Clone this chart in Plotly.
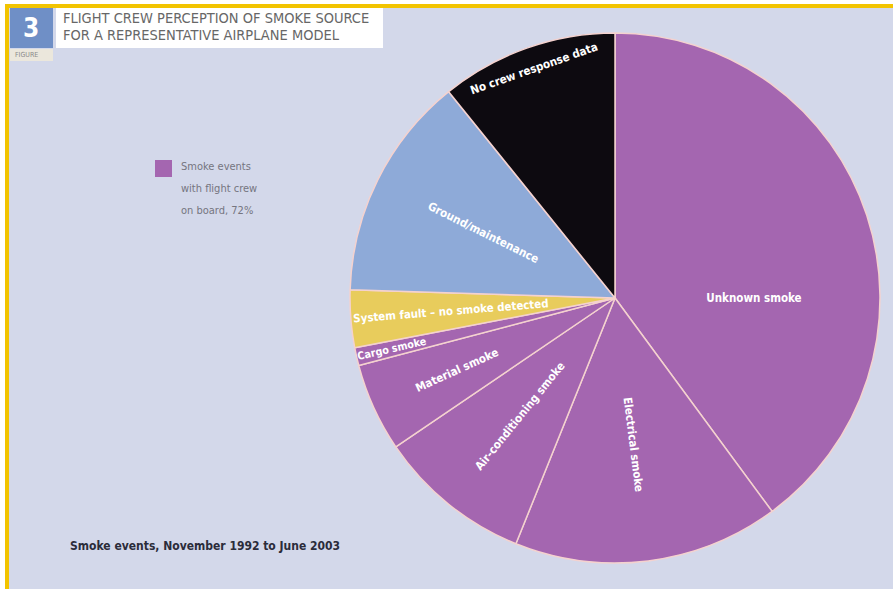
import plotly.graph_objects as go

# Data (clockwise from 12 o'clock)
categories = ["Unknown smoke", "Electrical smoke", "Air-conditioning smoke",
              "Material smoke", "Cargo smoke", "System fault \u2013 no smoke detected",
              "Ground/maintenance", "No crew response data"]
shares = [39.9, 16.2, 9.4, 5.4, 1.1, 3.5, 13.7, 10.8]
slice_colors = ["#a466b0", "#a466b0", "#a466b0", "#a466b0", "#a466b0",
                "#e8cc5c", "#8eaad8", "#0d0a10"]
tangential_labels = ["No crew response data"]

legend_lines = ["Smoke events", "with flight crew", "on board, 72%"]
title_lines = ["FLIGHT CREW PERCEPTION OF SMOKE SOURCE", "FOR A REPRESENTATIVE AIRPLANE MODEL"]
footer = "Smoke events, November 1992 to June 2003"

W, H = 893, 589
cx, cy, r = 615, 298, 265
FONT = "DejaVu Sans Condensed, Liberation Sans Narrow, DejaVu Sans, sans-serif"
dom = dict(x=[(cx - r) / W, (cx + r) / W], y=[1 - (cy + r) / H, 1 - (cy - r) / H])

radial_text = [c if c not in tangential_labels else "" for c in categories]
tang_text = [c if c in tangential_labels else "" for c in categories]

fig = go.Figure()
fig.add_trace(go.Pie(
    labels=categories, values=shares, sort=False, direction="clockwise", rotation=0,
    marker=dict(colors=slice_colors, line=dict(color="#f4d2cf", width=1.5)),
    text=radial_text, textinfo="text", textposition="inside",
    insidetextorientation="radial",
    textfont=dict(family=FONT, size=11.5, color="white", weight="bold"),
    hoverinfo="label+percent", showlegend=False, domain=dom,
))
fig.add_trace(go.Pie(
    labels=categories, values=shares, sort=False, direction="clockwise", rotation=0,
    marker=dict(colors=["rgba(0,0,0,0)"] * len(categories), line=dict(width=0)),
    text=tang_text, textinfo="text", textposition="inside",
    insidetextorientation="tangential",
    textfont=dict(family=FONT, size=11.5, color="white", weight="bold"),
    hoverinfo="skip", showlegend=False, domain=dom,
))

shapes = [
    dict(type="rect", xref="paper", yref="paper", x0=0, x1=5 / W, y0=0, y1=1,
         fillcolor="white", line=dict(width=0), layer="below"),
    dict(type="rect", xref="paper", yref="paper", x0=0, x1=1, y0=1 - 4 / H, y1=1,
         fillcolor="white", line=dict(width=0), layer="below"),
    dict(type="rect", xref="paper", yref="paper", x0=5 / W, x1=9 / W, y0=0, y1=1 - 4 / H,
         fillcolor="#f2c400", line=dict(width=0), layer="below"),
    dict(type="rect", xref="paper", yref="paper", x0=5 / W, x1=1, y0=1 - 8 / H, y1=1 - 4 / H,
         fillcolor="#f2c400", line=dict(width=0), layer="below"),
    dict(type="rect", xref="paper", yref="paper", x0=56 / W, x1=383 / W,
         y0=1 - 48 / H, y1=1 - 8 / H, fillcolor="white", line=dict(width=0)),
    dict(type="rect", xref="paper", yref="paper", x0=10 / W, x1=53 / W,
         y0=1 - 48 / H, y1=1 - 8 / H, fillcolor="#6f8fc6", line=dict(width=0)),
    dict(type="rect", xref="paper", yref="paper", x0=10 / W, x1=53 / W,
         y0=1 - 61 / H, y1=1 - 49 / H, fillcolor="#ebe7dc", line=dict(width=0)),
    dict(type="rect", xref="paper", yref="paper", x0=155 / W, x1=172 / W,
         y0=1 - 177 / H, y1=1 - 160 / H, fillcolor="#a466b0", line=dict(width=0)),
]

annotations = [
    dict(text="<b>3</b>", x=31.5 / W, y=1 - 28 / H, xref="paper", yref="paper",
         xanchor="center", yanchor="middle",
         showarrow=False, font=dict(family=FONT, size=26, color="white")),
    dict(text="FIGURE", x=13 / W, y=1 - 55 / H, xref="paper", yref="paper",
         xanchor="left", yanchor="middle",
         showarrow=False, font=dict(family=FONT, size=7, color="#8a8a8a")),
]
for i, line in enumerate(title_lines):
    annotations.append(dict(text=line, x=61 / W, y=1 - (18 + 17 * i) / H,
                            xref="paper", yref="paper", xanchor="left", yanchor="middle",
                            showarrow=False,
                            font=dict(family=FONT, size=14.5, color="#676767")))
for i, line in enumerate(legend_lines):
    annotations.append(dict(text=line, x=179 / W, y=1 - (166 + 22 * i) / H,
                            xref="paper", yref="paper", xanchor="left", yanchor="middle",
                            showarrow=False,
                            font=dict(family=FONT, size=11, color="#75757f")))
annotations.append(dict(text="<b>" + footer + "</b>", x=68 / W, y=1 - 546 / H,
                        xref="paper", yref="paper", xanchor="left", yanchor="middle",
                        showarrow=False,
                        font=dict(family=FONT, size=12, color="#2b2c3a")))

fig.update_layout(
    width=W, height=H, margin=dict(l=0, r=0, t=0, b=0),
    paper_bgcolor="#d3d8ea", plot_bgcolor="#d3d8ea",
    shapes=shapes, annotations=annotations,
)
fig.write_html("out.html", config={"displayModeBar": False},
               post_script="document.body.style.margin='0';document.body.style.padding='0';")
